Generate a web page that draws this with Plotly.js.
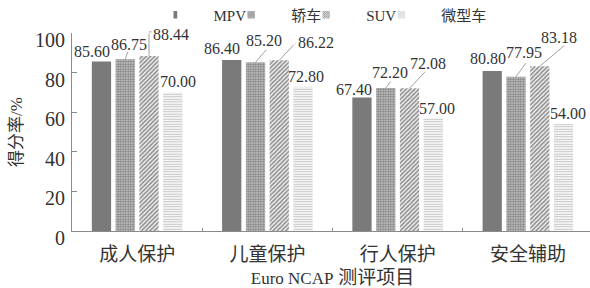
<!DOCTYPE html>
<html>
<head>
<meta charset="utf-8">
<script src="https://cdn.plot.ly/plotly-3.0.1.min.js"></script>
<style>
html,body{margin:0;padding:0;overflow:hidden;background:#fff;}
#chart{width:595px;height:288px;}
</style>
</head>
<body>
<div id="chart"></div>
<script>
// ---- data ----
const categories = ['成人保护', '儿童保护', '行人保护', '安全辅助'];
const seriesNames = ['MPV', '轿车', 'SUV', '微型车'];
const mpv   = [85.60, 86.40, 67.40, 80.80];
const sedan = [86.75, 85.20, 72.20, 77.95];
const suv   = [88.44, 86.22, 72.08, 83.18];
const mini  = [70.00, 72.80, 57.00, 54.00];
const yTicks = [0, 20, 40, 60, 80, 100];

// ---- styles / layout helpers ----
const W = 595, H = 288;
const M = {l: 72, r: 2, t: 33, b: 57};
const serif = 'Liberation Serif, Noto Sans CJK SC, serif';
const txt = '#333';
const axisCol = '#8a8a8a';
const bargap = 0.27, bargroupgap = 0.19;

const styles = [
  {color: '#7a7a7a', pattern: {shape: ''}},
  {color: '#a8a8a8', pattern: {shape: '.', size: 2.5, solidity: 0.6, fgcolor: '#7c7c7c', bgcolor: '#d4d4d4', fillmode: 'replace'}},
  {color: '#bdbdbd', pattern: {shape: '/', size: 3, solidity: 0.5, fgcolor: '#8a8a8a', bgcolor: '#f2f2f2', fillmode: 'replace'}},
  {color: '#e0e0e0', pattern: {shape: '-', size: 2.5, solidity: 0.45, fgcolor: '#c2c2c2', bgcolor: '#ffffff', fillmode: 'replace'}}
];
const allSeries = [mpv, sedan, suv, mini];

const traces = allSeries.map((vals, i) => ({
  type: 'bar',
  name: seriesNames[i],
  x: categories,
  y: vals,
  marker: {
    color: styles[i].color,
    pattern: styles[i].pattern,
    line: {width: 0}
  },
  hoverinfo: 'skip'
}));

// label placement per series/category: [dx, dy] pixel offsets of the label centre from bar top
const labelOff = [
  [[-9, -10], [-10, -11], [-8, -8], [-4, -13]],
  [[4, -15], [9, -22], [4, -16], [8, -24]],
  [[22, -21], [37, -18], [18, -25], [19, -29]],
  [[5, -11], [3, -10], [4, -10], [4, -11]]
];
// leader lines: null or segment [[x0,y0],[x1,y1]] relative to bar top (px, y down)
const leaders = [
  [null, null, null, null],
  [[[0, 0], [3, -9]], [[0, 0], [12, -14]], [[0, 0], [6, -8]], [[0, 0], [11, -15]]],
  [[[0, 0], [0, -24]], [[0, 0], [16, -17]], [[0, 0], [17, -18]], [[0, 0], [26, -22]]],
  [null, null, null, null]
];
const leaders2 = [
  [null, null, null, null],
  [null, null, null, null],
  [[[0, -24], [4, -24]], [[16, -17], [18, -17]], null, null],
  [null, null, null, null]
];

const nS = allSeries.length;
const slot = (1 - bargap) / nS;
function barCenter(ci, si) { return ci - (1 - bargap) / 2 + slot * (si + 0.5); }

const annotations = [];
allSeries.forEach((vals, si) => {
  vals.forEach((v, ci) => {
    const xc = barCenter(ci, si);
    const off = labelOff[si][ci];
    annotations.push({
      x: xc, y: v, xref: 'x', yref: 'y',
      text: v.toFixed(2), showarrow: false,
      xanchor: 'center', yanchor: 'middle',
      xshift: off[0], yshift: -off[1],
      font: {family: serif, size: 16, color: txt}
    });
    [leaders, leaders2].forEach(L => {
      const seg = L[si][ci];
      if (seg) {
        annotations.push({
          x: xc, y: v, xref: 'x', yref: 'y',
          text: '', showarrow: true, arrowhead: 0, arrowwidth: 0.8,
          arrowcolor: '#888', standoff: 0,
          xshift: seg[0][0], yshift: -seg[0][1],
          axref: 'pixel', ayref: 'pixel',
          ax: seg[1][0] - seg[0][0], ay: seg[1][1] - seg[0][1]
        });
      }
    });
  });
});

const layout = {
  width: W, height: H,
  margin: M,
  paper_bgcolor: '#fff', plot_bgcolor: '#fff',
  barmode: 'group', bargap: bargap, bargroupgap: bargroupgap,
  font: {family: serif, color: txt},
  showlegend: true,
  legend: {
    orientation: 'h', x: 0.5, xanchor: 'center',
    y: 1 - 15 / H, yanchor: 'middle', yref: 'container',
    font: {family: serif, size: 15, color: txt},
    itemwidth: 30, tracegroupgap: 0, traceorder: 'normal',
    bgcolor: 'rgba(0,0,0,0)'
  },
  xaxis: {
    type: 'category',
    showline: true, linecolor: axisCol, linewidth: 1,
    ticks: 'inside', tickson: 'boundaries', ticklen: 3, tickcolor: axisCol,
    tickfont: {family: 'Noto Sans CJK SC', size: 19, color: txt},
    ticklabelstandoff: 6,
    showgrid: false, zeroline: false,
    title: {text: '<span style="font-size:17px">Euro NCAP</span> 测评项目',
            font: {family: serif, size: 19, color: txt}, standoff: 17}
  },
  yaxis: {
    range: [0, 100], tickvals: yTicks, ticktext: yTicks.map(String),
    showline: true, linecolor: axisCol, linewidth: 1,
    ticks: 'inside', ticklen: 5, tickcolor: axisCol,
    tickfont: {family: serif, size: 20, color: txt},
    ticklabelshift: 7, ticklabelstandoff: 2,
    showgrid: false, zeroline: false,
    title: {text: '得分率/%', font: {family: serif, size: 17, color: txt}, standoff: 8}
  },
  annotations: annotations
};

const gd = document.getElementById('chart');
Plotly.newPlot(gd, traces, layout, {displayModeBar: false, staticPlot: true}).then(() => {
  // smaller square swatches, as in the reference
  gd.querySelectorAll('.legendpoints path').forEach(p => p.setAttribute('transform', 'scale(0.62)'));
});
</script>
</body>
</html>
